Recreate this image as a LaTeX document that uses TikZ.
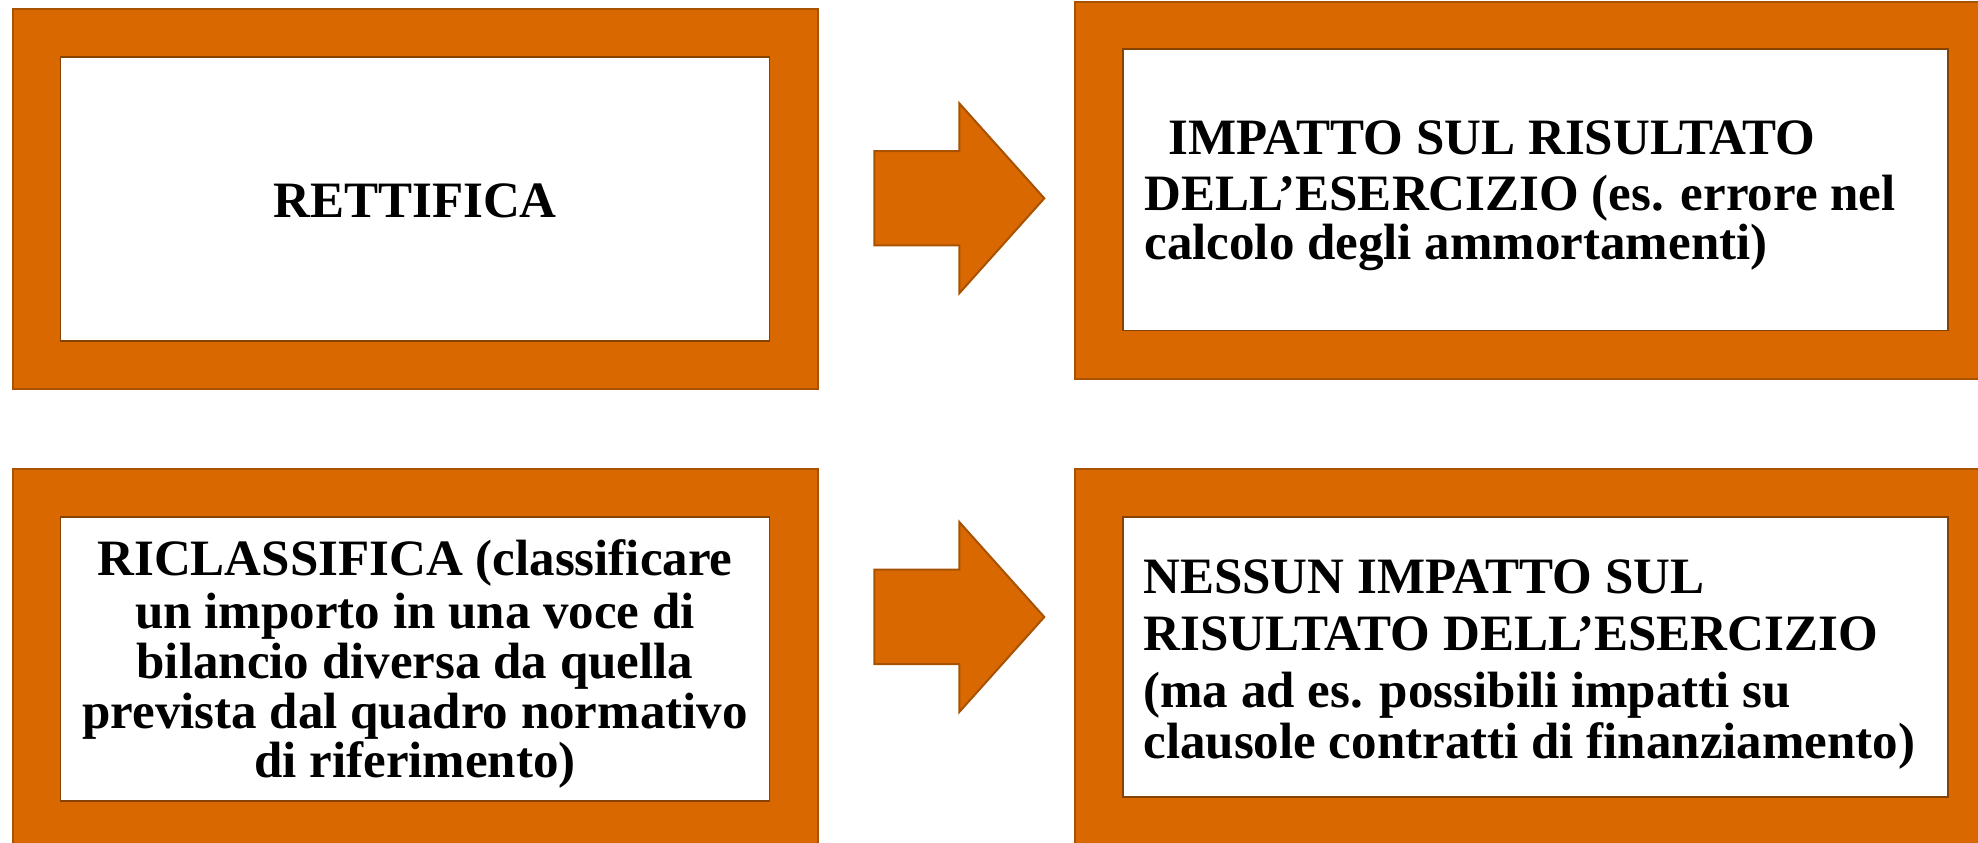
\documentclass[tikz,border=0pt]{standalone}
\usepackage{fontspec}
\setmainfont{Liberation Serif}
\definecolor{orangefill}{HTML}{D96800}
\definecolor{orangeedge}{HTML}{A85200}
\begin{document}
\begin{tikzpicture}[x=0.5pt,y=-0.5pt,
  outerbox/.style={draw=orangeedge,fill=orangefill,line width=1pt,inner sep=0pt,rectangle},
  innerbox/.style={draw=orangeedge!80!black,fill=white,line width=0.8pt,inner sep=0pt,rectangle},
  txt/.style={font=\fontsize{25.5}{30}\selectfont\bfseries,inner sep=0pt,text=black},
  blockarrow/.style={draw=orangeedge,fill=orangefill,line width=1pt,line join=miter}]
\clip (0,0) rectangle (1978,842);
\useasboundingbox (0,0) rectangle (1978,842);
\fill[white] (0,0) rectangle (1978,842);
% boxes
\node[outerbox,minimum width=402.5pt,minimum height=190pt] (o1) at (415,198.6) {};
\node[innerbox,minimum width=354.5pt,minimum height=142pt] (i1) at (415,198.7) {};
\node[outerbox,minimum width=457.5pt,minimum height=188.5pt] (o2) at (1532.5,190) {};
\node[innerbox,minimum width=412.6pt,minimum height=140.75pt] (i2) at (1535.4,189.75) {};
\node[outerbox,minimum width=402.5pt,minimum height=195.35pt] (o3) at (415,664.65) {};
\node[innerbox,minimum width=354.5pt,minimum height=141.9pt] (i3) at (415,659.1) {};
\node[outerbox,minimum width=457.5pt,minimum height=195.35pt] (o4) at (1532.5,664.65) {};
\node[innerbox,minimum width=412.6pt,minimum height=139.9pt] (i4) at (1535.4,657.1) {};
% block arrows
\draw[blockarrow] (874.3,151) -- (959.3,151) -- (959.3,103.3) -- (1044.3,198.3) -- (959.3,293.3) -- (959.3,245.3) -- (874.3,245.3) -- cycle;
\draw[blockarrow] (874.3,569.7) -- (959.3,569.7) -- (959.3,522) -- (1044.3,617) -- (959.3,712) -- (959.3,664) -- (874.3,664) -- cycle;
% texts
\node[txt,anchor=base] (t1) at (415,217) {RETTIFICA};
\node[txt,anchor=base west] (t2a) at (1168,154) {IMPATTO SUL RISULTATO};
\node[txt,anchor=base west] (t2b) at (1144,210) {DELL’ESERCIZIO (es. errore nel};
\node[txt,anchor=base west] (t2c) at (1144,259) {calcolo degli ammortamenti)};
\node[txt,anchor=base] (t3a) at (415,575) {RICLASSIFICA (classificare};
\node[txt,anchor=base] (t3b) at (415,628) {un importo in una voce di};
\node[txt,anchor=base] (t3c) at (415,678) {bilancio diversa da quella};
\node[txt,anchor=base] (t3d) at (415,728) {prevista dal quadro normativo};
\node[txt,anchor=base] (t3e) at (415,777) {di riferimento)};
\node[txt,anchor=base west] (t4a) at (1143,593) {NESSUN IMPATTO SUL};
\node[txt,anchor=base west] (t4b) at (1143,650) {RISULTATO DELL’ESERCIZIO};
\node[txt,anchor=base west] (t4c) at (1143,707) {(ma ad es. possibili impatti su};
\node[txt,anchor=base west] (t4d) at (1143,758) {clausole contratti di finanziamento)};
\end{tikzpicture}
\end{document}
